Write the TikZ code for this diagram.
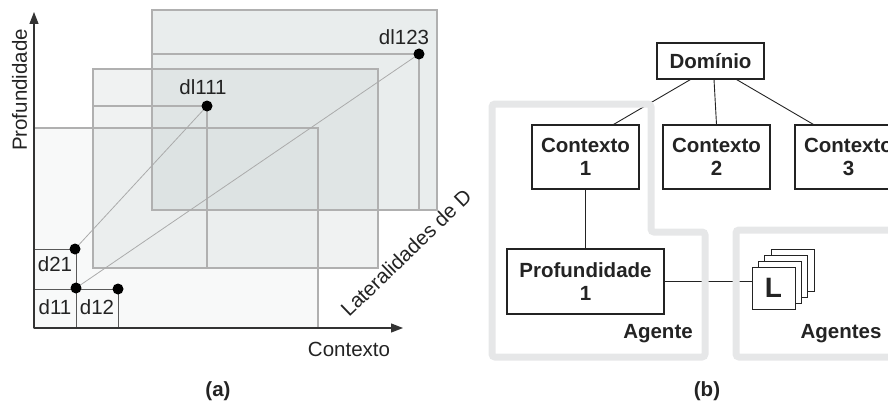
\documentclass[tikz,border=0pt]{standalone}
\usepackage{fontspec}
\setmainfont{Liberation Sans}
\usetikzlibrary{arrows.meta}
\definecolor{planefill}{RGB}{200,210,210}
\definecolor{planeedge}{RGB}{176,176,176}
\definecolor{bandgray}{RGB}{230,231,232}
\definecolor{ink}{RGB}{35,35,35}
\begin{document}
\begin{tikzpicture}[x=1pt,y=-1pt,
  every node/.style={font=\fontsize{20.5}{23}\selectfont, text=ink, inner sep=0pt},
  planeedge/.style={draw=planeedge, line width=1.1pt},
  link/.style={draw=black!33, line width=0.8pt},
  dot/.style={circle, fill=black, minimum size=11pt, inner sep=0pt},
  cell/.style={draw=black!65, line width=1pt},
  axis/.style={draw=black!80, line width=1.2pt, -{Triangle[length=12pt,width=9pt]}},
  box/.style={draw=ink, line width=1.1pt, fill=white, align=center,
    font=\fontsize{20.5}{23}\selectfont\bfseries},
  band/.style={draw=bandgray, line width=7pt, rounded corners=3pt},
  tie/.style={draw=ink, line width=0.9pt},
  card/.style={draw=ink, line width=1pt, fill=white, minimum width=43pt, minimum height=42pt},
]
\useasboundingbox (0,0) rectangle (888,404);
\clip (0,0) rectangle (888,404);

% ---------- (a) planes of the space ----------
\fill[planefill, fill opacity=0.40] (152,10) rectangle (437,210);
\fill[planefill, fill opacity=0.28] (93,69) rectangle (378,268);
\fill[planefill, fill opacity=0.13] (34,128) rectangle (318,328);
\draw[planeedge] (152,10) rectangle (437,210);
\draw[planeedge] (93,69) rectangle (378,268);
\draw[planeedge] (34,128) rectangle (318,328);

% point positions
\coordinate (p123) at (419,54);
\coordinate (p111) at (207,106);
\coordinate (p21) at (75,249);
\coordinate (p11) at (76,288);
\coordinate (p12) at (118,289);

% projections of the points onto their planes
\draw[planeedge] (152,54) -- (p123) -- (419,210);
\draw[planeedge] (93,106) -- (p111) -- (207,268);

% links between levels
\draw[link] (p21) -- (p111);
\draw[link] (p11) -- (p123);

% elementary cells
\draw[cell] (34,249) rectangle (76,289);
\draw[cell] (34,289) rectangle (76,328);
\draw[cell] (76,289) rectangle (118,328);
\node[anchor=base] (t21) at (55,271) {d21};
\node[anchor=base] (t11) at (55,314) {d11};
\node[anchor=base] (t12) at (97,314) {d12};
\node[anchor=base] (t111) at (203,94) {dl111};
\node[anchor=base] (t123) at (404,45) {dl123};

% points on top
\foreach \p in {p123,p111,p21,p11,p12}
  \node[dot] (dot-\p) at (\p) {};

% axes
\coordinate (o) at (34,328);
\coordinate (ytip) at (34,12);
\coordinate (xtip) at (403,328);
\draw[axis] (o) -- (ytip);
\draw[axis] (o) -- (xtip);
\node[anchor=base, rotate=90] (ylab) at (27,90) {Profundidade};
\node[anchor=base] (xlab) at (349,356) {Contexto};
\node[anchor=base west, rotate=44] (zlab) at (349,318) {Lateralidades de D};
\node[font=\fontsize{20.5}{23}\selectfont\bfseries] (capa) at (218,391) {(a)};

% ---------- (b) hierarchy ----------
\node[box, minimum width=107pt, minimum height=36pt] (dom) at (710.5,61) {Domínio};
\node[box, minimum width=107pt, minimum height=64pt] (c1) at (585.5,157) {Contexto\\1};
\node[box, minimum width=107pt, minimum height=64pt] (c2) at (716.5,157) {Contexto\\2};
\node[box, minimum width=107pt, minimum height=64pt] (c3) at (848.5,157) {Contexto\\3};
\node[box, minimum width=157pt, minimum height=65pt] (prof) at (585.5,281.5) {Profundidade\\1};

% stack of agent cards, back to front
\node[card] (l4) at (792.5,270) {};
\node[card] (l3) at (786.2,276) {};
\node[card] (l2) at (779.8,282) {};
\node[card, font=\fontsize{28}{30}\selectfont\bfseries] (l1) at (773.5,288) {L};

% connections
\draw[tie] ([xshift=34pt]dom.south west) -- ([xshift=-26pt]c1.north east);
\draw[tie] ([xshift=3.5pt]dom.south) -- (c2.north);
\draw[tie] ([xshift=-28pt]dom.south east) -- ([xshift=19pt]c3.north west);
\draw[tie] (c1.south) -- (prof.north);
\draw[tie] (prof.east) -- (l1.west |- prof.east);

% agent boundaries
\draw[band] (492,104) -- (651,104) -- (651,232) -- (705,232) -- (705,357) -- (492,357) -- cycle;
\draw[band] (900,230) -- (736,230) -- (736,357) -- (900,357);
\node[anchor=base, font=\fontsize{20.5}{23}\selectfont\bfseries] (ag) at (658,338) {Agente};
\node[anchor=base, font=\fontsize{20.5}{23}\selectfont\bfseries] (ags) at (841,338) {Agentes};
\node[font=\fontsize{20.5}{23}\selectfont\bfseries] (capb) at (707,391) {(b)};
\end{tikzpicture}
\end{document}
